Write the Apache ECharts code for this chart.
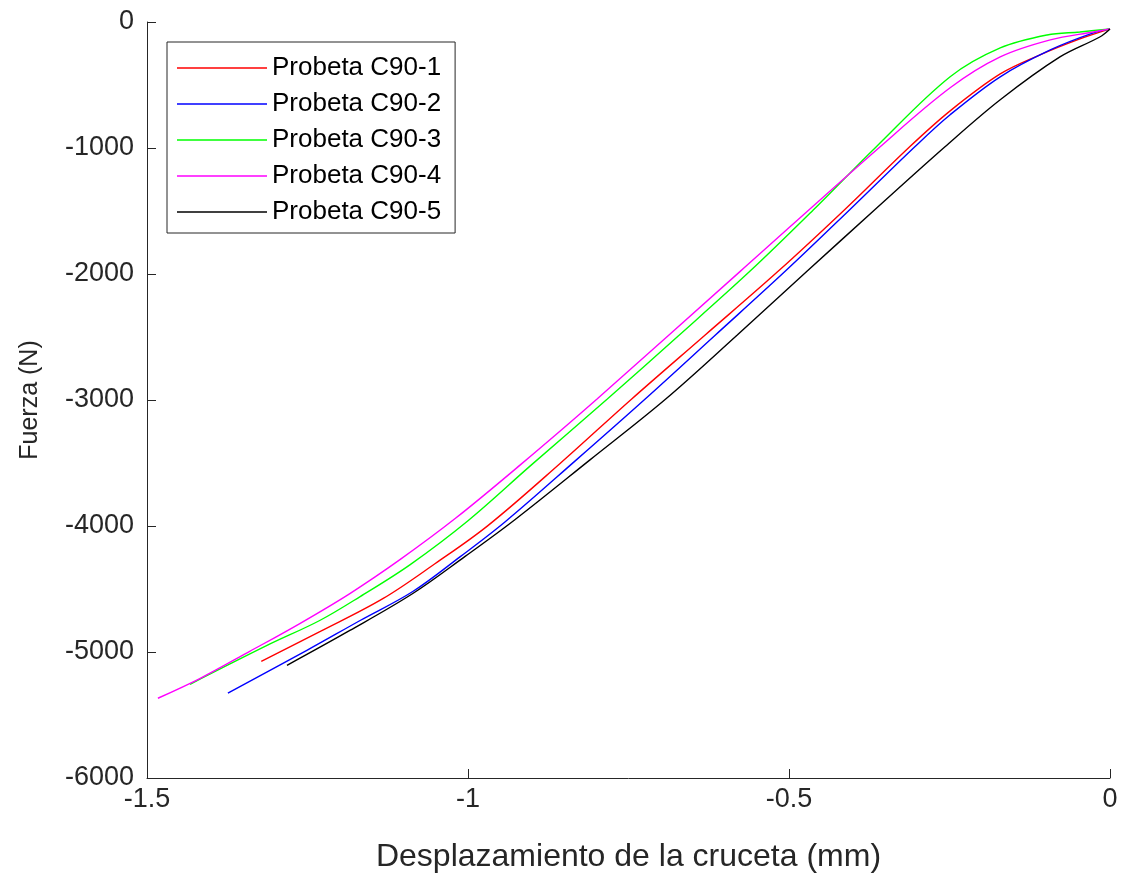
<!DOCTYPE html>
<html>
<head>
<meta charset="utf-8">
<script src="https://cdn.jsdelivr.net/npm/echarts@6/dist/echarts.min.js"></script>
<style>
html,body{margin:0;padding:0;background:#fff;}
#chart{width:1124px;height:878px;}
</style>
</head>
<body>
<div id="chart"></div>
<script>
// Series names
const seriesNames = ['Probeta C90-1', 'Probeta C90-2', 'Probeta C90-3', 'Probeta C90-4', 'Probeta C90-5'];
const seriesColors = ['#ff0000', '#0000ff', '#00ff00', '#ff00ff', '#000000'];

// Displacement (mm), Force (N)
const c90_1 = [
  [-1.322, -5074], [-1.230, -4837], [-1.132, -4575], [-1.051, -4298], [-0.969, -3997],
  [-0.857, -3506], [-0.745, -2992], [-0.631, -2486], [-0.517, -1979], [-0.413, -1488],
  [-0.312, -990], [-0.249, -705], [-0.171, -412], [-0.109, -261], [-0.051, -142], [0, -55]
];
const c90_2 = [
  [-1.374, -5327], [-1.251, -4987], [-1.168, -4750], [-1.086, -4520], [-1.012, -4243],
  [-0.942, -3966], [-0.833, -3483], [-0.724, -2992], [-0.615, -2486], [-0.506, -1979],
  [-0.405, -1488], [-0.304, -990], [-0.249, -736], [-0.171, -435], [-0.093, -222],
  [-0.026, -87], [0, -55]
];
const c90_3 = [
  [-1.433, -5256], [-1.313, -4948], [-1.231, -4750], [-1.168, -4560], [-1.090, -4306],
  [-1.000, -3958], [-0.903, -3523], [-0.783, -2992], [-0.673, -2494], [-0.561, -1979],
  [-0.463, -1496], [-0.364, -990], [-0.249, -435], [-0.171, -206], [-0.098, -103],
  [-0.047, -79], [0, -55]
];
const c90_4 = [
  [-1.483, -5367], [-1.417, -5209], [-1.340, -4995], [-1.262, -4774], [-1.184, -4536],
  [-1.106, -4267], [-1.019, -3937], [-0.919, -3517], [-0.799, -2992], [-0.576, -1979],
  [-0.358, -990], [-0.249, -522], [-0.171, -277], [-0.093, -142], [-0.026, -79], [0, -55]
];
const c90_5 = [
  [-1.282, -5106], [-1.184, -4829], [-1.086, -4536], [-1.005, -4243], [-0.927, -3950],
  [-0.810, -3475], [-0.692, -2992], [-0.581, -2486], [-0.472, -1979], [-0.366, -1488],
  [-0.257, -990], [-0.171, -617], [-0.078, -277], [-0.016, -119], [0, -55]
];
const allData = [c90_1, c90_2, c90_3, c90_4, c90_5];

const xTicks = { min: -1.5, max: 0, interval: 0.5 };
const yTicks = { min: -6000, max: 0, interval: 1000 };

const axisColor = '#262626';
const font = 'Liberation Sans, Arial, Helvetica, sans-serif';

const chart = echarts.init(document.getElementById('chart'), null, { renderer: 'canvas' });
chart.setOption({
  backgroundColor: '#ffffff',
  animation: false,
  grid: { left: 147, right: 14, top: 22, bottom: 98, containLabel: false },
  xAxis: {
    type: 'value',
    min: xTicks.min, max: xTicks.max, interval: xTicks.interval,
    name: 'Desplazamiento de la cruceta (mm)',
    nameLocation: 'middle', nameGap: 63,
    nameTextStyle: { color: axisColor, fontSize: 32, fontFamily: font },
    axisLine: { show: true, onZero: false, lineStyle: { color: axisColor, width: 1 } },
    axisTick: { show: true, inside: true, length: 9, lineStyle: { color: axisColor } },
    axisLabel: { color: axisColor, fontSize: 27, fontFamily: font, margin: 8,
      formatter: v => String(v) },
    splitLine: { show: false }
  },
  yAxis: {
    type: 'value',
    min: yTicks.min, max: yTicks.max, interval: yTicks.interval,
    name: 'Fuerza (N)',
    nameLocation: 'middle', nameGap: 104,
    nameTextStyle: { color: axisColor, fontSize: 25, fontFamily: font },
    axisLine: { show: true, onZero: false, lineStyle: { color: axisColor, width: 1 } },
    axisTick: { show: true, inside: true, length: 9, lineStyle: { color: axisColor } },
    axisLabel: { color: axisColor, fontSize: 27, fontFamily: font, margin: 13,
      formatter: v => String(v) },
    splitLine: { show: false }
  },
  legend: {
    orient: 'vertical',
    left: 167, top: 42,
    data: seriesNames,
    icon: 'rect',
    itemWidth: 90, itemHeight: 1.5,
    itemGap: 10,
    padding: [13, 14, 8, 10],
    backgroundColor: '#ffffff',
    borderColor: axisColor, borderWidth: 1,
    textStyle: { color: '#000', fontSize: 26, fontFamily: font, lineHeight: 26 }
  },
  series: seriesNames.map((name, i) => ({
    name: name,
    type: 'line',
    data: allData[i],
    showSymbol: false,
    symbol: 'none',
    smooth: 0.35,
    lineStyle: { color: seriesColors[i], width: 1.4 },
    itemStyle: { color: seriesColors[i] },
    z: 2 + i
  }))
});
</script>
</body>
</html>
